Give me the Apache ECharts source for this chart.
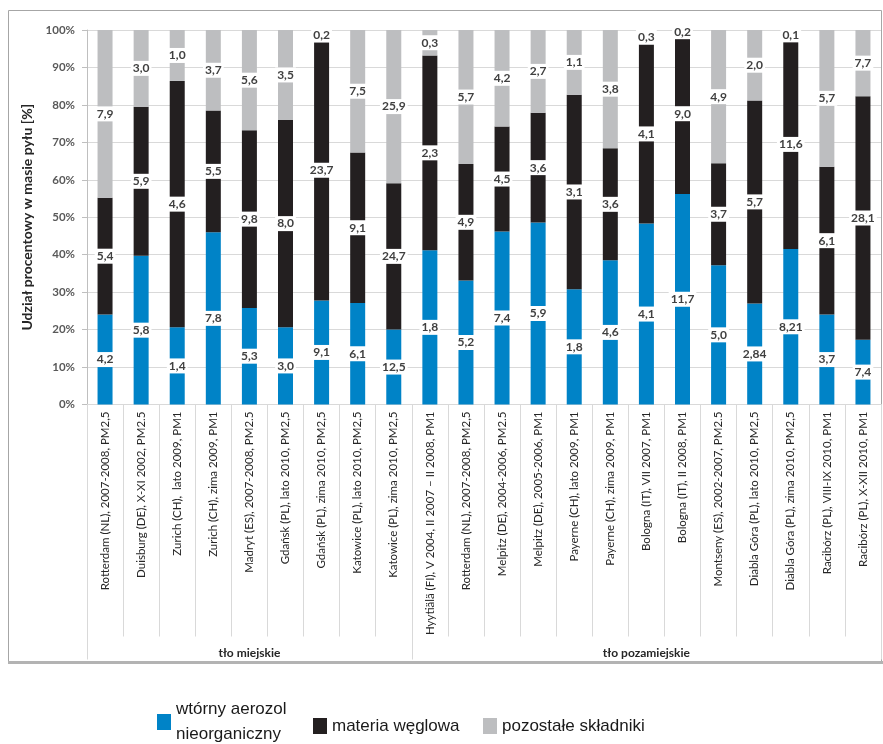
<!DOCTYPE html>
<html><head><meta charset="utf-8">
<script src="https://cdn.jsdelivr.net/npm/echarts@6/dist/echarts.min.js"></script>
<style>html,body{margin:0;padding:0;background:#fff}#c{width:883px;height:744px}</style>
</head><body><div id="c"></div>
<script>
const categories = [
  "Rotterdam (NL), 2007-2008, PM2,5",
  "Duisburg (DE), X-XI 2002, PM2.5",
  "Zurich (CH),  lato 2009, PM1",
  "Zurich (CH), zima 2009, PM1",
  "Madryt (ES), 2007-2008, PM2.5",
  "Gdańsk (PL), lato 2010, PM2,5",
  "Gdańsk (PL), zima 2010, PM2,5",
  "Katowice (PL), lato 2010, PM2,5",
  "Katowice (PL), zima 2010, PM2,5",
  "Hyytiälä (FI), V 2004, II 2007 – II 2008, PM1",
  "Rotterdam (NL), 2007-2008, PM2,5",
  "Melpitz (DE), 2004-2006, PM2.5",
  "Melpitz (DE), 2005-2006, PM1",
  "Payerne (CH), lato 2009, PM1",
  "Payerne (CH), zima 2009, PM1",
  "Bologna (IT), VII 2007, PM1",
  "Bologna (IT), II 2008, PM1",
  "Montseny (ES), 2002-2007, PM2.5",
  "Diabla Góra (PL), lato 2010, PM2,5",
  "Diabla Góra (PL), zima 2010, PM2,5",
  "Racibórz (PL), VIII-IX 2010, PM1",
  "Racibórz (PL), X-XII 2010, PM1"
];
const groupNames = ["tło miejskie", "tło pozamiejskie"];
const groupSizes = [9, 13];

const seriesNames = ["wtórny aerozol\nnieorganiczny", "materia węglowa", "pozostałe składniki"];

// percentage shares (%)
const bluePct  = [24.0, 39.7, 20.6, 46.0, 25.8, 20.6, 27.8, 27.1, 20.0, 41.2, 33.1, 46.2, 48.6, 30.8, 38.5, 48.3, 56.2, 37.2, 27.0, 41.5, 24.0, 17.3];
const blackPct = [31.2, 39.8, 65.8, 32.5, 47.4, 55.4, 69.5, 40.2, 39.1, 52.0, 31.1, 28.0, 29.3, 51.9, 29.9, 47.9, 42.9, 27.2, 54.2, 55.9, 39.5, 65.0];
const grayPct  = [44.8, 20.5, 13.6, 21.5, 26.8, 24.0, 2.7, 32.7, 40.9, 6.8, 35.8, 25.8, 22.1, 17.3, 31.6, 3.8, 0.9, 35.6, 18.8, 2.6, 36.5, 17.7];

// value labels shown on segments
const blueLabels  = ['4,2','5,8','1,4','7,8','5,3','3,0','9,1','6,1','12,5','1,8','5,2','7,4','5,9','1,8','4,6','4,1','11,7','5,0','2,84','8,21','3,7','7,4'];
const blackLabels = ['5,4','5,9','4,6','5,5','9,8','8,0','23,7','9,1','24,7','2,3','4,9','4,5','3,6','3,1','3,6','4,1','9,0','3,7','5,7','11,6','6,1','28,1'];
const grayLabels  = ['7,9','3,0','1,0','3,7','5,6','3,5','0,2','7,5','25,9','0,3','5,7','4,2','2,7','1,1','3,8','0,3','0,2','4,9','2,0','0,1','5,7','7,7'];

const yTicks = [0, 100, 10];

const colors = ['#0083c7', '#231f20', '#bdbec0'];
const FONT = 'Lato, "Open Sans", sans-serif';

// group tick boundaries and label positions
const groupStarts = [];
const groupCenters = {};
let acc = 0;
groupSizes.forEach((s, i) => { groupStarts.push(acc); groupCenters[acc + Math.floor(s / 2)] = groupNames[i]; acc += s; });

function labelCfg(arr) {
  return {
    show: true, position: 'inside',
    formatter: p => arr[p.dataIndex],
    color: '#404040', fontWeight: 'bold', fontSize: 12, fontFamily: FONT,
    backgroundColor: '#fff', padding: [2, 2, 1, 2],
    textBorderWidth: 0
  };
}

const chart = echarts.init(document.getElementById('c'), null, {renderer: 'canvas'});
const pctArrays = [bluePct, blackPct, grayPct];
const labArrays = [blueLabels, blackLabels, grayLabels];

const legendPos = [
  {left: 157, top: 697, lh: 25},
  {left: 313, top: 716, lh: 20},
  {left: 483, top: 716, lh: 20}
];

chart.setOption({
  animation: false,
  textStyle: {fontFamily: FONT},
  graphic: [
    {type: 'rect', shape: {x: 8.5, y: 10.5, width: 873, height: 651}, style: {fill: 'none', stroke: '#a6a6a6', lineWidth: 1}, silent: true},
    {type: 'rect', shape: {x: 8, y: 661, width: 875, height: 3}, style: {fill: '#b3b3b3'}, silent: true}
  ],
  grid: {left: 87, width: 794, top: 30, height: 374.5},
  legend: legendPos.map((pos, i) => ({
    data: [seriesNames[i]],
    left: pos.left, top: pos.top, padding: 0,
    itemWidth: 14, itemHeight: 16, itemGap: 0,
    icon: 'rect',
    textStyle: {fontFamily: '"Liberation Sans", Arial, sans-serif', fontSize: 17, color: '#1a1a1a', lineHeight: pos.lh},
    selectedMode: false
  })),
  xAxis: [
    {
      type: 'category', data: categories, position: 'bottom',
      axisLine: {show: true, lineStyle: {color: '#d9d9d9'}},
      axisTick: {show: true, interval: 0, length: 232, lineStyle: {color: '#d9d9d9'}},
      axisLabel: {interval: 0, rotate: 90, margin: 7, fontSize: 11.5, color: '#262626', fontFamily: FONT}
    },
    {
      type: 'category', data: categories, position: 'bottom', offset: 0,
      axisLine: {show: false},
      axisTick: {show: true, interval: (i) => groupStarts.indexOf(i) >= 0, length: 255, lineStyle: {color: '#d9d9d9'}},
      axisLabel: {interval: 0, margin: 243, fontSize: 12, fontWeight: 'bold', color: '#262626', fontFamily: FONT,
        formatter: (v, i) => groupCenters[i] || ''}
    }
  ],
  yAxis: {
    type: 'value', min: yTicks[0], max: yTicks[1], interval: yTicks[2],
    name: 'Udział procentowy w masie pyłu [%]', nameLocation: 'middle', nameGap: 47,
    nameTextStyle: {fontSize: 14, fontWeight: 'bold', color: '#262626', fontFamily: FONT},
    axisLine: {show: true, lineStyle: {color: '#bfbfbf'}},
    axisTick: {show: true, length: 5, lineStyle: {color: '#bfbfbf'}},
    axisLabel: {formatter: '{value}%', fontSize: 11.5, fontWeight: 'bold', color: '#595959', margin: 12, fontFamily: FONT},
    splitLine: {show: true, lineStyle: {color: '#d9d9d9'}}
  },
  series: pctArrays.map((arr, i) => ({
    name: seriesNames[i], type: 'bar', stack: 'total', barWidth: 15,
    xAxisIndex: 0,
    itemStyle: {color: colors[i]},
    label: labelCfg(labArrays[i]),
    data: arr
  }))
});
</script></body></html>
